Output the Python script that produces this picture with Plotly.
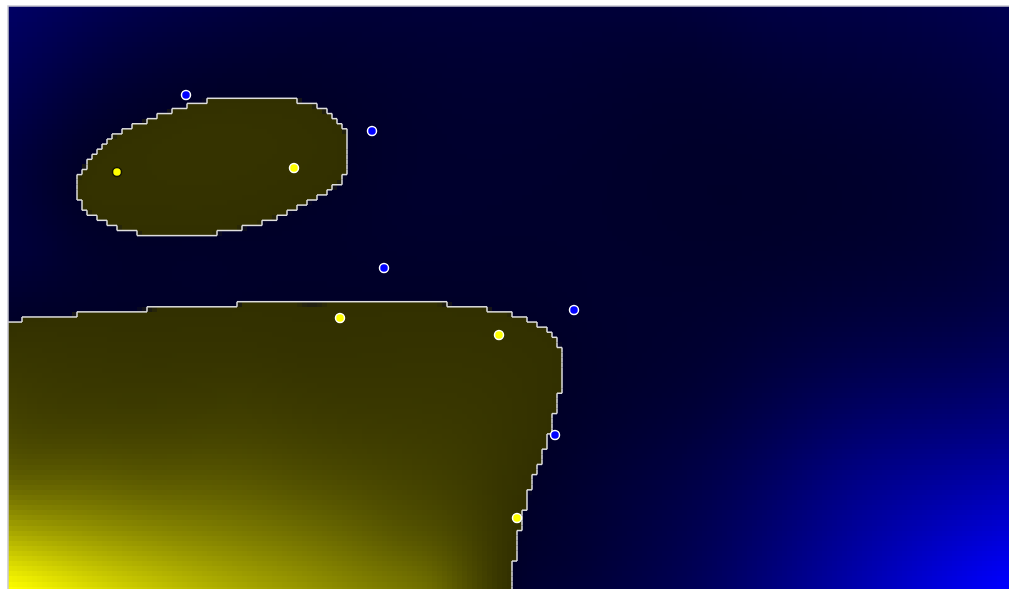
import numpy as np
import plotly.graph_objects as go

# Canvas units: x to the right, y downwards, 1001 x 583
WIDTH, HEIGHT = 1001, 583
CELL_W, CELL_H = 5.0, 5.085
OFF_X, OFF_Y = -1.0, 0.77

# Training points of the two classes
yellow_x = [109, 286, 332, 491, 509]
yellow_y = [166, 162, 312, 329, 512]
blue_x = [178, 364, 376, 566, 547]
blue_y = [89, 125, 262, 304, 429]
# yellow point shown with a dark ring
ringed = [True, False, False, False, False]

# Decision-value samples: zero level on the oval and on the big region edge
oval_x = [199, 244, 290, 189, 171, 156, 143, 133, 122, 112, 97, 79, 70, 67, 74, 84, 92, 102, 118, 142,
          169, 197, 224, 247, 262, 275, 285, 295, 305, 317, 329, 337, 340, 335, 325, 312, 298]
oval_y = [94.5, 91.5, 94.5, 97, 102, 107, 112, 117, 122, 127, 137, 157, 174, 182, 199, 209, 214, 219, 224, 229,
          229, 229, 224, 219, 214, 209, 204, 199, 194, 187, 179, 169, 144, 122, 112, 102, 97]
edge_x = [-30, 5, 14, 43, 72, 104, 137, 183, 229, 280, 335, 400, 442, 462, 482, 493, 504, 512, 519, 529,
          539, 544, 549, 552, 554, 554, 554, 551.5, 546.5, 542, 537, 531.5, 525, 520, 515, 511, 508, 505, 503, 501]
edge_y = [320, 316, 313, 310, 308, 306, 303.5, 301, 298.5, 296, 295.5, 296, 298.5, 301, 303.5, 306, 308.5, 311,
          313.5, 318.5, 323.5, 329, 336, 341, 350, 364, 380, 387, 407, 427, 442, 457, 474, 491, 509, 529, 547,
          564, 583, 610]

# Decision-value samples away from the edge (positive = yellow side)
val_x = [0, 142, 292, 422, 0, 0, 142, 242, 392, 292, 442, 292, 100, 480, 203, 120, 290,
         0, 200, 500, 750, 1001, 592, 842, 1001, 842, 1001, 692, 842, 1001, 692, 22, 192, 392, 692, 12, 400, 600, 620, 560]
val_y = [583, 583, 583, 583, 474, 394, 474, 394, 534, 474, 444, 344, 350, 380, 161, 165, 140,
         0, 0, 0, 0, 0, 144, 274, 294, 474, 583, 583, 583, 444, 394, 244, 274, 194, 44, 94, 80, 300, 480, 560]
val_z = [1.0, 0.73, 0.5, 0.29, 0.24, 0.07, 0.2, 0.05, 0.2, 0.15, 0.05, 0.01, 0.02, 0.02, 0.015, 0.01, 0.01,
         -0.28, -0.12, -0.08, -0.12, -0.19, -0.02, -0.05, -0.14, -0.42, -1.0, -0.23, -0.6, -0.5, -0.07, -0.07,
         -0.01, -0.02, -0.05, -0.16, -0.03, -0.02, -0.08, -0.05]


def tps_fit(px, py, pz, smooth=1e-4):
    p = np.column_stack([px, py]) / 100.0
    n = len(p)
    r = np.linalg.norm(p[:, None, :] - p[None, :, :], axis=-1)
    with np.errstate(divide='ignore', invalid='ignore'):
        k = np.where(r > 0, r ** 2 * np.log(r), 0.0)
    P = np.column_stack([np.ones(n), p])
    A = np.zeros((n + 3, n + 3))
    A[:n, :n] = k + smooth * np.eye(n)
    A[:n, n:] = P
    A[n:, :n] = P.T
    b = np.concatenate([pz, np.zeros(3)])
    sol = np.linalg.solve(A, b)
    return p, sol[:n], sol[n:]


def tps_eval(model, qx, qy):
    p, w, a = model
    q = np.column_stack([qx.ravel(), qy.ravel()]) / 100.0
    r = np.linalg.norm(q[:, None, :] - p[None, :, :], axis=-1)
    with np.errstate(divide='ignore', invalid='ignore'):
        k = np.where(r > 0, r ** 2 * np.log(r), 0.0)
    return (k @ w + a[0] + q @ a[1:]).reshape(qx.shape)


sx = np.array(oval_x + edge_x + val_x, float)
sy = np.array(oval_y + edge_y + val_y, float)
sz = np.array([0.0] * (len(oval_x) + len(edge_x)) + val_z, float)
model = tps_fit(sx, sy, sz)

# cell grid covering the canvas
xs = OFF_X + CELL_W * (np.arange(int((WIDTH - OFF_X) / CELL_W) + 1) + 0.5)
ys = OFF_Y + CELL_H * (np.arange(-1, int((HEIGHT - OFF_Y) / CELL_H) + 1) + 0.5)
nx, ny = len(xs), len(ys)
GX, GY = np.meshgrid(xs, ys)
Z = np.clip(tps_eval(model, GX, GY), -1, 1)

scale = [[0.0, 'rgb(0,0,255)'], [0.4999, 'rgb(0,0,40)'], [0.5001, 'rgb(50,48,0)'], [1.0, 'rgb(255,255,0)']]

fig = go.Figure()
fig.add_trace(go.Heatmap(x=xs, y=ys, z=Z, zmin=-1, zmax=1, colorscale=scale,
                         showscale=False, zsmooth=False, hoverinfo='skip'))

# Boundary drawn along the cell edges where the sign flips
pos = Z > 0
hw, hh = CELL_W / 2, CELL_H / 2
lx, ly = [], []
for i in range(ny):
    for j in range(nx - 1):
        if pos[i, j] != pos[i, j + 1]:
            xe = xs[j] + hw
            lx += [xe, xe, None]
            ly += [ys[i] - hh, ys[i] + hh, None]
for i in range(ny - 1):
    for j in range(nx):
        if pos[i, j] != pos[i + 1, j]:
            ye = ys[i] + hh
            lx += [xs[j] - hw, xs[j] + hw, None]
            ly += [ye, ye, None]
fig.add_trace(go.Scatter(x=lx, y=ly, mode='lines', line=dict(color='rgb(222,222,222)', width=1.5),
                         hoverinfo='skip'))

fig.add_trace(go.Scatter(x=blue_x, y=blue_y, mode='markers',
                         marker=dict(color='rgb(0,0,255)', size=9, line=dict(color='white', width=1.5))))
fig.add_trace(go.Scatter(x=yellow_x, y=yellow_y, mode='markers',
                         marker=dict(color='rgb(255,255,0)', size=9,
                                     line=dict(color=['rgb(20,20,0)' if r else 'white' for r in ringed],
                                               width=1.5))))

fig.add_shape(type='rect', xref='paper', yref='paper', x0=0, x1=1.02, y0=-0.02, y1=1,
              line=dict(color='rgb(200,200,210)', width=1.5), layer='above')

fig.update_layout(width=1009, height=589, margin=dict(l=8, r=0, t=6, b=0), showlegend=False,
                  paper_bgcolor='white', plot_bgcolor='black',
                  xaxis=dict(range=[0, WIDTH], visible=False, fixedrange=True),
                  yaxis=dict(range=[HEIGHT, 0], visible=False, fixedrange=True))
fig.write_html('out.html')
